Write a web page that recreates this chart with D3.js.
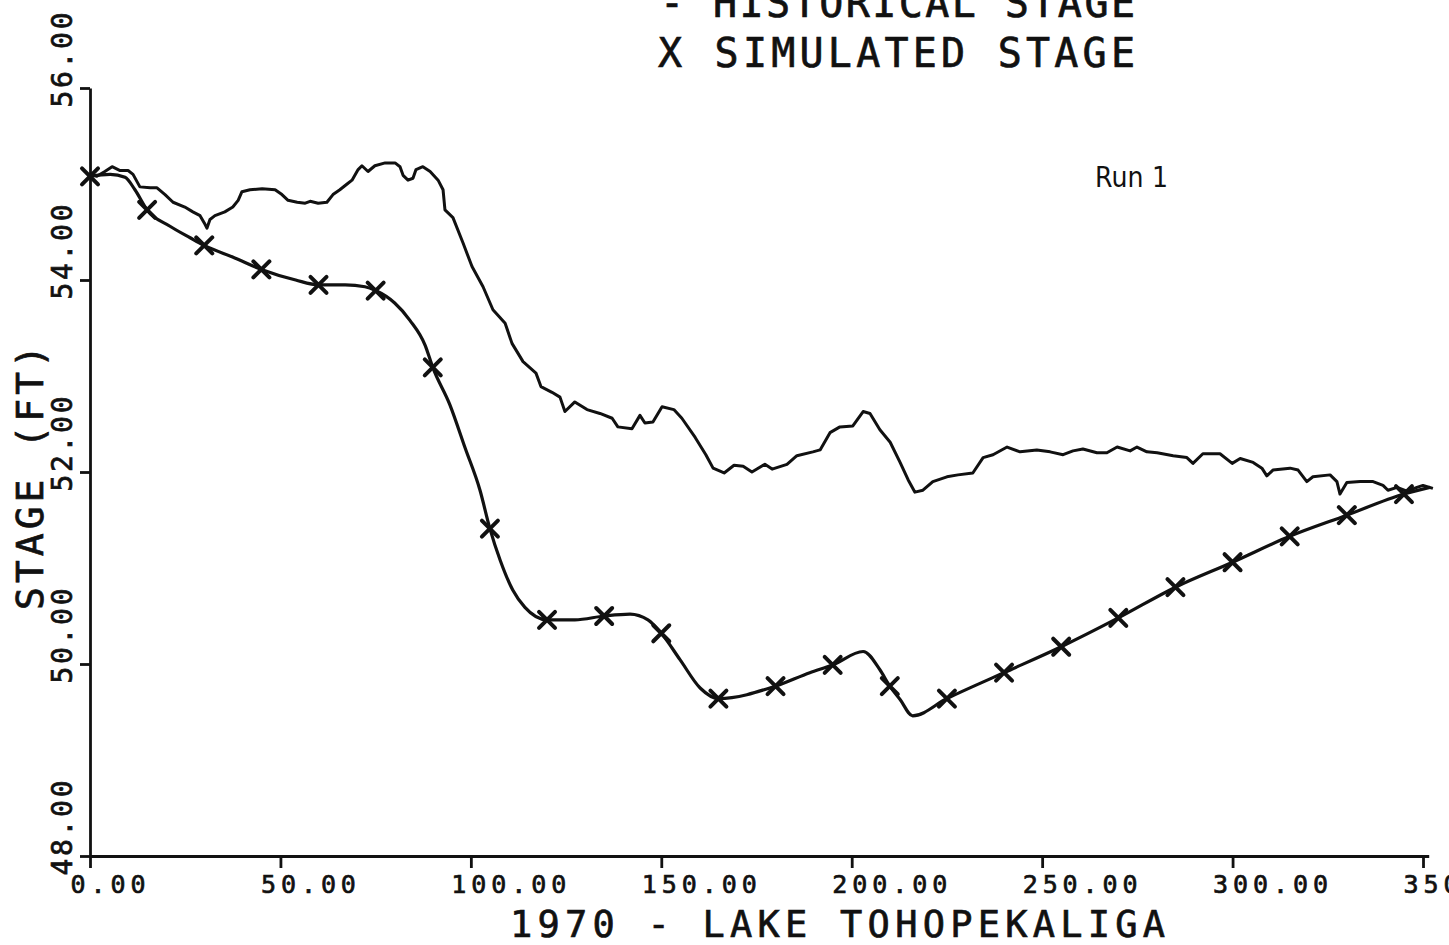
<!DOCTYPE html>
<html>
<head>
<meta charset="utf-8">
<script src="https://cdn.jsdelivr.net/npm/d3@7"></script>
<style>
  html, body { margin: 0; padding: 0; background: #fff; }
  svg { display: block; }
  .plotter { font-family: "DejaVu Sans Mono", "Liberation Mono", monospace; fill: #111; stroke: #111; stroke-width: 0.7px; }
</style>
</head>
<body>
<svg id="chart" width="1449" height="945"></svg>
<script>
// Tick values of the two axes
const xTicks = [0, 50, 100, 150, 200, 250, 300, 350];
const yTicks = [48, 50, 52, 54, 56];

// Historical stage (ft), day of year 1970
const histDay = [0,1.8,3.9,5.8,7.9,10.0,11.3,13.1,15.8,17.6,19.7,21.8,24.9,27.0,28.9,30.2,30.7,31.5,32.8,35.4,
  37.5,38.9,39.9,42.0,45.2,48.6,50.4,52.0,54.4,56.5,57.8,59.9,62.2,63.8,65.6,67.5,68.8,70.4,71.4,73.0,
  74.8,77.5,80.1,81.4,82.2,83.5,84.8,85.6,87.4,89.3,91.4,92.7,93.2,95.3,97.9,100.3,103.2,105.8,109.0,110.8,
  113.7,117.1,118.4,121.3,123.4,124.7,127.3,130.5,133.9,137.1,138.6,142.3,144.4,145.7,147.8,150.2,153.3,155.4,158.9,161.7,
  163.6,166.5,169.1,171.5,173.8,177.2,179.1,183.0,185.6,189.8,191.7,194.3,196.9,200.3,203.0,204.8,207.4,210.1,212.7,214.8,
  216.6,218.7,221.3,225.0,227.9,231.8,234.5,237.1,240.8,244.2,248.6,252.1,255.5,258.1,260.7,264.4,267.0,269.7,273.1,274.9,
  277.5,280.2,284.4,288.0,289.6,292.2,296.7,299.9,302.0,305.4,307.7,309.0,310.6,315.1,317.2,319.5,321.1,325.6,327.4,328.2,
  330.0,333.5,336.9,339.5,340.8,343.2,345.8,348.4,350.0,352.6];
const histStage = [55.11,55.08,55.13,55.18,55.14,55.14,55.10,54.97,54.96,54.96,54.89,54.81,54.76,54.71,54.67,54.58,54.54,54.63,54.67,54.71,
  54.76,54.83,54.92,54.94,54.95,54.94,54.89,54.83,54.81,54.80,54.82,54.80,54.81,54.89,54.94,55.00,55.04,55.15,55.19,55.13,
  55.19,55.22,55.22,55.18,55.09,55.04,55.06,55.15,55.18,55.13,55.04,54.94,54.73,54.65,54.39,54.14,53.93,53.69,53.55,53.34,
  53.15,53.03,52.89,52.83,52.78,52.63,52.73,52.65,52.61,52.56,52.47,52.45,52.59,52.51,52.52,52.68,52.65,52.56,52.36,52.18,
  52.04,51.99,52.07,52.06,52.00,52.08,52.03,52.08,52.17,52.21,52.23,52.41,52.47,52.48,52.63,52.61,52.44,52.31,52.10,51.92,
  51.79,51.81,51.90,51.95,51.97,51.99,52.15,52.18,52.26,52.21,52.23,52.21,52.18,52.22,52.24,52.20,52.20,52.26,52.22,52.26,
  52.21,52.20,52.17,52.15,52.09,52.19,52.19,52.09,52.14,52.10,52.04,51.96,52.02,52.04,52.02,51.90,51.95,51.97,51.90,51.77,
  51.89,51.90,51.90,51.86,51.81,51.84,51.80,51.84,51.86,51.83];

// Simulated stage (ft); an X is plotted every 15 days
const simDay = [0,5.3,9.2,11.8,15,21,26.3,30,38,45,54,60,67,72.2,75,80,84,88,90,94.5,
  98.5,102.4,105,107.7,111,114.2,120,127.3,135,141.8,146.5,150,155,160.2,165,180,189,195,203,207.4,
  210,212.7,216,225,240,255,270,285,300,315,330,345,351.8];
const simStage = [55.08,55.10,55.07,54.94,54.73,54.56,54.44,54.36,54.23,54.11,54.00,53.95,53.95,53.93,53.89,53.76,53.58,53.32,53.09,52.70,
  52.25,51.81,51.41,51.08,50.77,50.59,50.46,50.46,50.50,50.52,50.46,50.32,50.04,49.75,49.64,49.77,49.91,49.99,50.13,49.94,
  49.77,49.63,49.46,49.64,49.91,50.18,50.48,50.80,51.06,51.33,51.55,51.77,51.84];
const markerInterval = 15;

const svg = d3.select("#chart");
const ink = "#111";

const x = d3.scaleLinear().domain([0, 351.5]).range([90, 90 + 351.5 * (1333 / 350)]);
const y = d3.scaleLinear().domain([48, 56]).range([856, 88]);

// Bottom axis
const xAxis = svg.append("g")
  .attr("transform", `translate(0,${y(48)})`)
  .call(d3.axisBottom(x).tickValues(xTicks).tickSize(12).tickSizeOuter(0)
    .tickFormat(d => d.toFixed(2)));
xAxis.selectAll("text")
  .attr("class", "plotter")
  .attr("text-anchor", "start")
  .attr("x", -20).attr("y", 37).attr("dy", null)
  .style("font-size", "25px")
  .attr("textLength", function () { return this.textContent.length * 20 - 5; })
  .attr("lengthAdjust", "spacing");

// Left axis with labels turned to read upward
const yAxis = svg.append("g")
  .attr("transform", `translate(${x(0)},0)`)
  .call(d3.axisLeft(y).tickValues(yTicks).tickSize(10).tickSizeOuter(0)
    .tickFormat(d => d.toFixed(2)));
yAxis.selectAll("text")
  .attr("class", "plotter")
  .attr("text-anchor", "start")
  .attr("transform", "rotate(-90)")
  .attr("x", -19).attr("y", -18).attr("dy", null)
  .style("font-size", "28px")
  .attr("textLength", function () { return this.textContent.length * 20 - 5; })
  .attr("lengthAdjust", "spacing");

svg.selectAll(".domain, .tick line")
  .attr("stroke", ink).attr("stroke-width", 2.8);

// Historical stage trace
const hist = d3.zip(histDay, histStage);
svg.append("path")
  .datum(hist)
  .attr("fill", "none").attr("stroke", ink)
  .attr("stroke-width", 3).attr("stroke-linejoin", "round")
  .attr("d", d3.line().x(d => x(d[0])).y(d => y(d[1])));

// Simulated stage trace with X symbols
const sim = d3.zip(simDay, simStage);
svg.append("path")
  .datum(sim)
  .attr("fill", "none").attr("stroke", ink)
  .attr("stroke-width", 3.2).attr("stroke-linejoin", "round")
  .attr("d", d3.line().curve(d3.curveMonotoneX).x(d => x(d[0])).y(d => y(d[1])));

svg.append("g").selectAll("path")
  .data(sim.filter(d => d[0] % markerInterval === 0))
  .join("path")
  .attr("transform", d => `translate(${x(d[0])},${y(d[1])})`)
  .attr("d", "M-8,-8L8,8M-8,8L8,-8")
  .attr("stroke", ink).attr("stroke-width", 4).attr("stroke-linecap", "round");

// Axis titles
svg.append("text").attr("class", "plotter")
  .attr("x", 510).attr("y", 937)
  .style("font-size", "37px")
  .attr("textLength", 655).attr("lengthAdjust", "spacing")
  .text("1970 - LAKE TOHOPEKALIGA");

svg.append("text").attr("class", "plotter")
  .attr("transform", "translate(43,610) rotate(-90)")
  .style("font-size", "38px")
  .attr("textLength", 265).attr("lengthAdjust", "spacing")
  .text("STAGE (FT)");

// Legend
svg.append("text").attr("class", "plotter")
  .attr("x", 660).attr("y", 17)
  .style("font-size", "40px")
  .attr("textLength", 475).attr("lengthAdjust", "spacing")
  .text("- HISTORICAL STAGE");
svg.append("text").attr("class", "plotter")
  .attr("x", 658).attr("y", 67)
  .style("font-size", "40px")
  .attr("textLength", 477).attr("lengthAdjust", "spacing")
  .text("X SIMULATED STAGE");

svg.append("text")
  .attr("x", 1095).attr("y", 187)
  .style("font-family", "'Liberation Sans Narrow', 'DejaVu Sans Condensed', sans-serif")
  .style("font-size", "28px").style("fill", ink)
  .attr("textLength", 73).attr("lengthAdjust", "spacing")
  .text("Run 1");
</script>
</body>
</html>
